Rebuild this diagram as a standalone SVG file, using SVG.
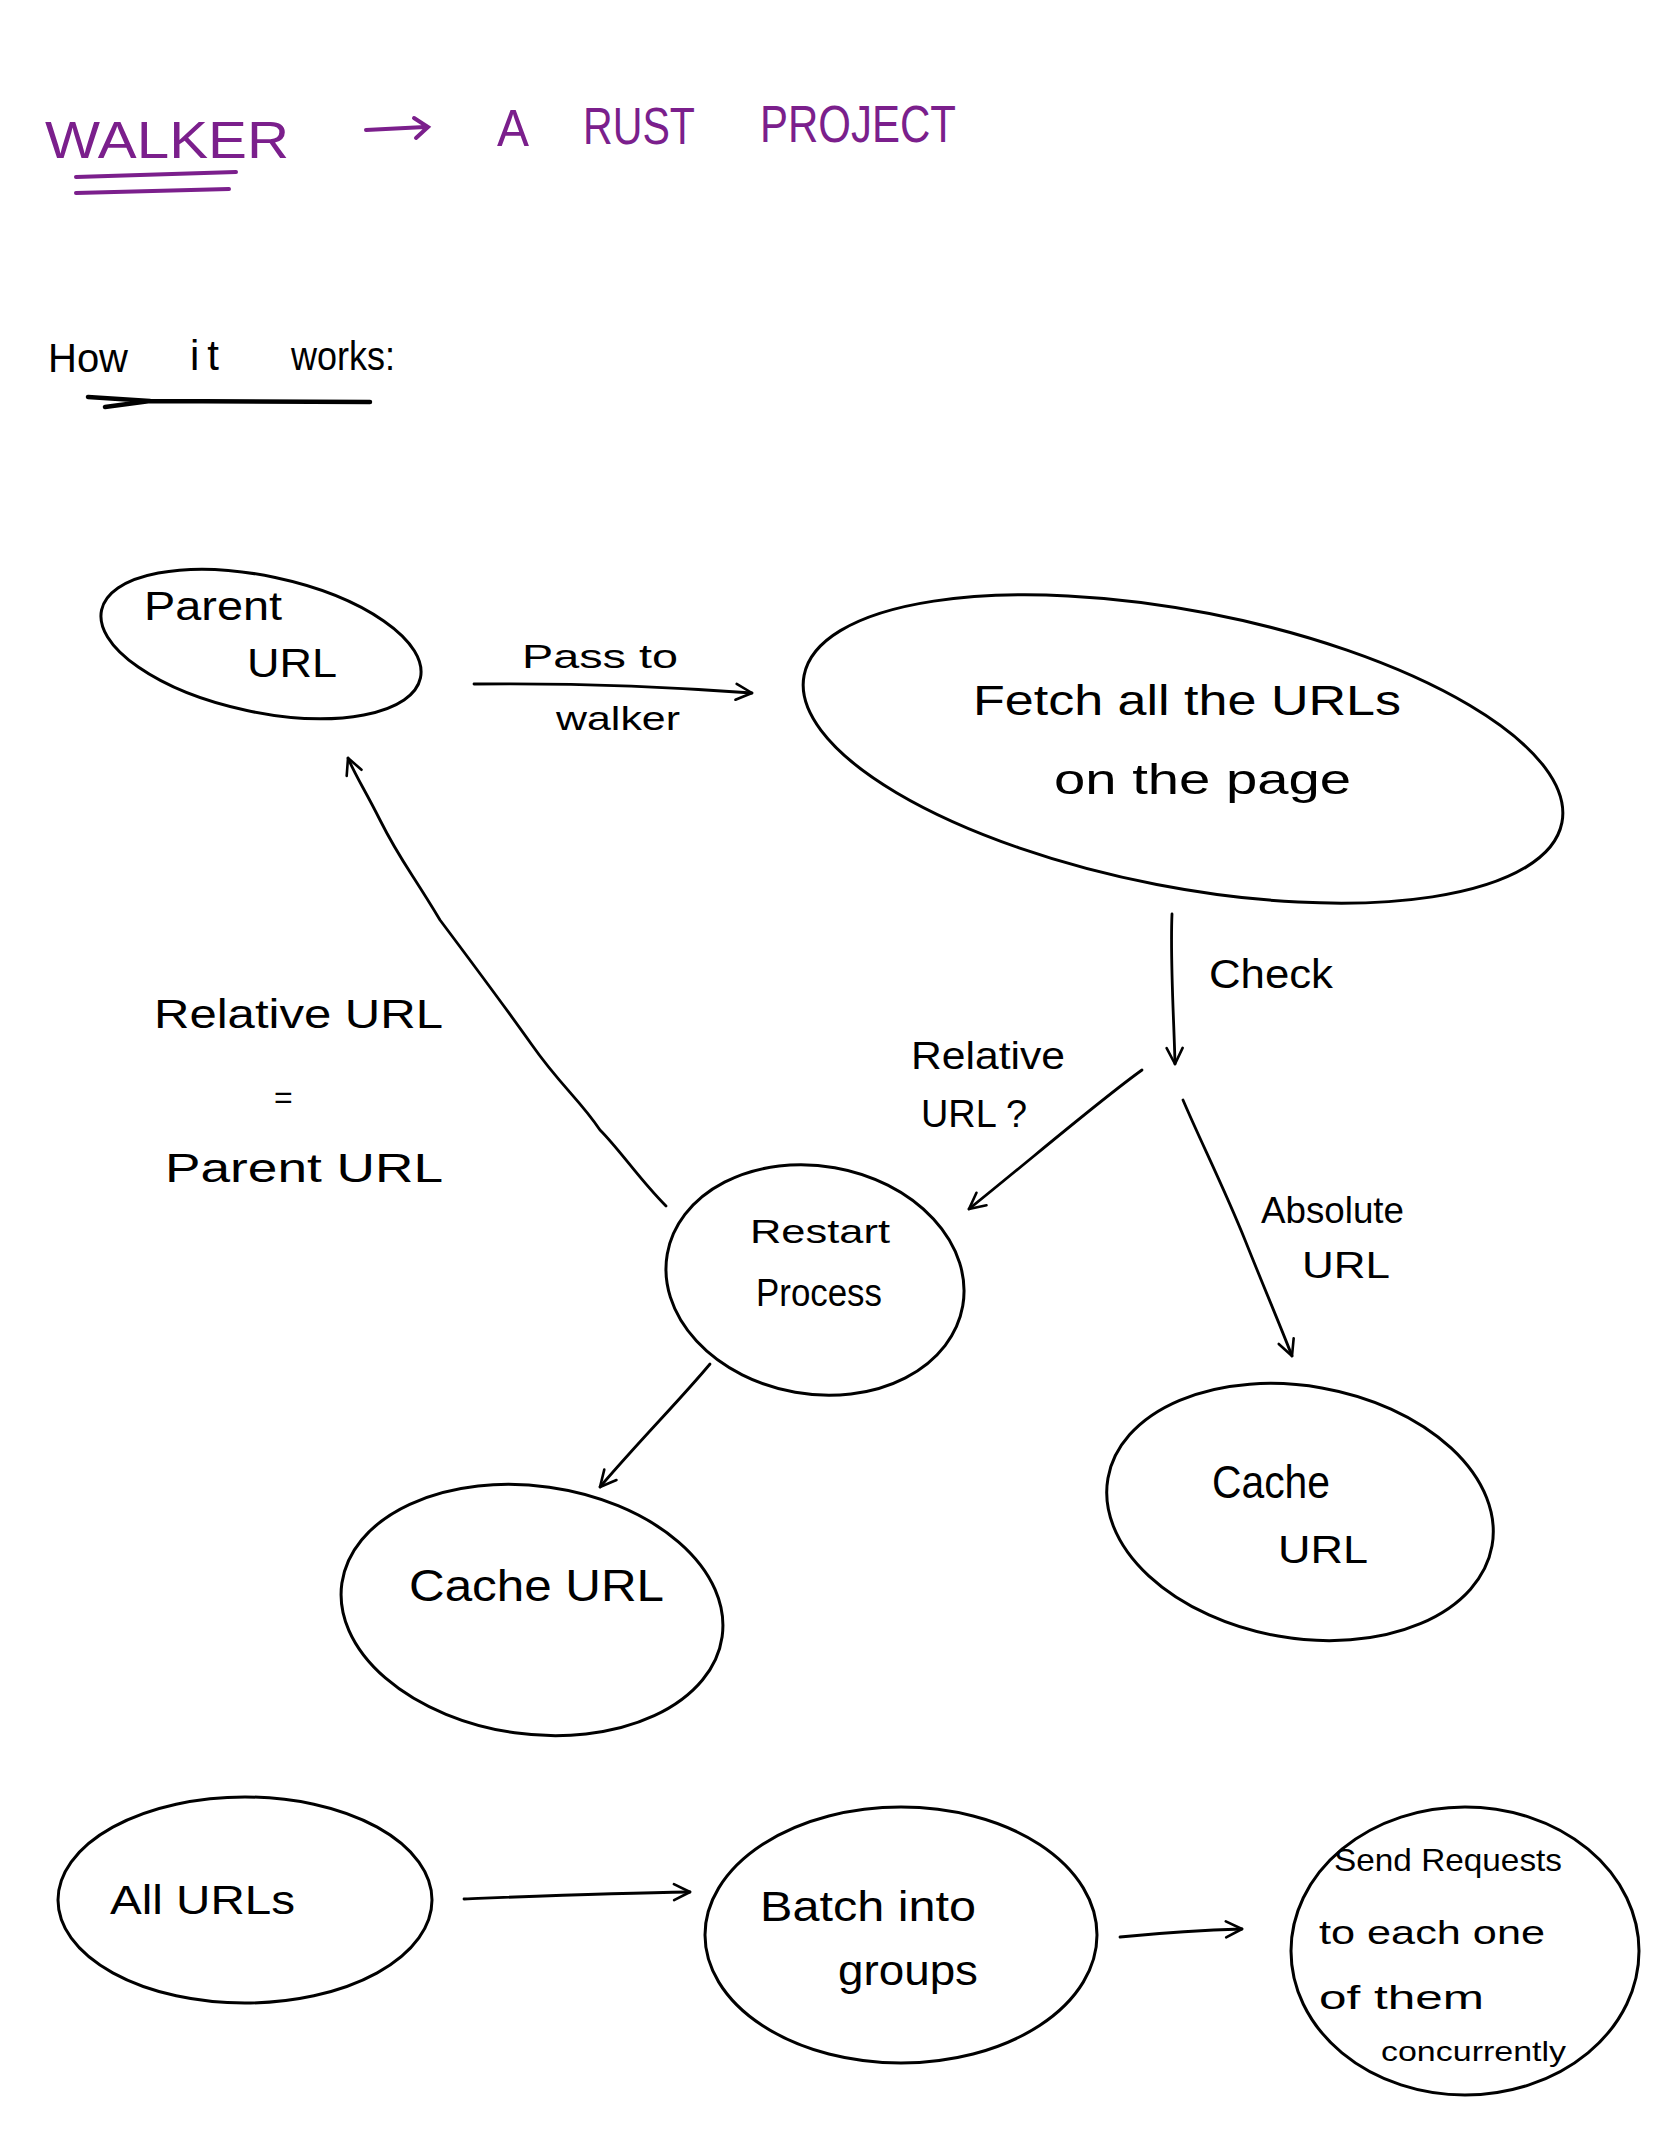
<svg xmlns="http://www.w3.org/2000/svg" width="1668" height="2154" viewBox="0 0 1668 2154">
<style>
.bg{fill:#ffffff}
.node{fill:none;stroke:#000;stroke-width:3}
.edge{fill:none;stroke:#000;stroke-width:2.8;stroke-linecap:round;stroke-linejoin:round}
.t{font-family:"Liberation Sans",Arial,sans-serif;fill:#000}
.title{font-family:"Liberation Sans",Arial,sans-serif;fill:#7b1f8c;font-size:52px}
.pl{fill:none;stroke:#7b1f8c;stroke-width:4;stroke-linecap:round}
</style>
<defs>
<marker id="chev" viewBox="0 0 20 20" refX="18" refY="10" markerWidth="20" markerHeight="20" markerUnits="userSpaceOnUse" orient="auto">
<path d="M2,2 L18,10 L2,18" fill="none" stroke="#000" stroke-width="2.6" stroke-linecap="round" stroke-linejoin="round"/>
</marker>
</defs>
<rect class="bg" x="0" y="0" width="1668" height="2154"/>

<g id="title">
<text class="title" x="45" y="158" textLength="244" lengthAdjust="spacingAndGlyphs">WALKER</text>
<path class="pl" d="M76,177 L236,172 M76,193 L229,189"/>
<path class="pl" d="M366,130 L425,127 M414,118 L428,127 L416,138"/>
<text class="title" x="497" y="146" textLength="32" lengthAdjust="spacingAndGlyphs">A</text>
<text class="title" x="583" y="144" textLength="112" lengthAdjust="spacingAndGlyphs">RUST</text>
<text class="title" x="760" y="142" textLength="196" lengthAdjust="spacingAndGlyphs">PROJECT</text>
</g>

<g id="subtitle">
<text class="t" x="48" y="372" font-size="40" textLength="80" lengthAdjust="spacingAndGlyphs">How</text>
<text class="t" x="190" y="370" font-size="42" letter-spacing="8">it</text>
<text class="t" x="291" y="370" font-size="40" textLength="104" lengthAdjust="spacingAndGlyphs">works:</text>
<path d="M88,397 L150,401 L370,402 M150,401 L105,407" fill="none" stroke="#000" stroke-width="4.5" stroke-linecap="round"/>
</g>

<g id="parent-url">
<ellipse class="node" cx="261" cy="644" rx="163" ry="68" transform="rotate(12 261 644)"/>
<text class="t" x="144" y="620" font-size="40" textLength="138" lengthAdjust="spacingAndGlyphs">Parent</text>
<text class="t" x="247" y="677" font-size="40" textLength="90" lengthAdjust="spacingAndGlyphs">URL</text>
</g>

<g id="fetch">
<ellipse class="node" cx="1183" cy="749" rx="386" ry="138" transform="rotate(11 1183 749)"/>
<text class="t" x="973" y="715" font-size="42" textLength="428" lengthAdjust="spacingAndGlyphs">Fetch all the URLs</text>
<text class="t" x="1054" y="794" font-size="42" textLength="297" lengthAdjust="spacingAndGlyphs">on the page</text>
</g>

<g id="restart">
<ellipse class="node" cx="815" cy="1280" rx="150" ry="114" transform="rotate(10 815 1280)"/>
<text class="t" x="750" y="1243" font-size="34" textLength="140" lengthAdjust="spacingAndGlyphs">Restart</text>
<text class="t" x="756" y="1306" font-size="38" textLength="126" lengthAdjust="spacingAndGlyphs">Process</text>
</g>

<g id="cache-left">
<ellipse class="node" cx="532" cy="1610" rx="192" ry="124" transform="rotate(8 532 1610)"/>
<text class="t" x="409" y="1601" font-size="44" textLength="255" lengthAdjust="spacingAndGlyphs">Cache URL</text>
</g>

<g id="cache-right">
<ellipse class="node" cx="1300" cy="1512" rx="195" ry="126" transform="rotate(10 1300 1512)"/>
<text class="t" x="1212" y="1498" font-size="46" textLength="118" lengthAdjust="spacingAndGlyphs">Cache</text>
<text class="t" x="1278" y="1563" font-size="38" textLength="90" lengthAdjust="spacingAndGlyphs">URL</text>
</g>

<g id="all-urls">
<ellipse class="node" cx="245" cy="1900" rx="187" ry="103"/>
<text class="t" x="110" y="1914" font-size="40" textLength="185" lengthAdjust="spacingAndGlyphs">All URLs</text>
</g>

<g id="batch">
<ellipse class="node" cx="901" cy="1935" rx="196" ry="128"/>
<text class="t" x="760" y="1921" font-size="42" textLength="216" lengthAdjust="spacingAndGlyphs">Batch into</text>
<text class="t" x="838" y="1985" font-size="42" textLength="140" lengthAdjust="spacingAndGlyphs">groups</text>
</g>

<g id="send">
<ellipse class="node" cx="1465" cy="1951" rx="174" ry="144"/>
<text class="t" x="1334" y="1871" font-size="32" textLength="228" lengthAdjust="spacingAndGlyphs">Send Requests</text>
<text class="t" x="1319" y="1944" font-size="34" textLength="226" lengthAdjust="spacingAndGlyphs">to each one</text>
<text class="t" x="1319" y="2009" font-size="34" textLength="165" lengthAdjust="spacingAndGlyphs">of them</text>
<text class="t" x="1381" y="2061" font-size="28" textLength="185" lengthAdjust="spacingAndGlyphs">concurrently</text>
</g>

<g id="labels">
<text class="t" x="522" y="668" font-size="34" textLength="156" lengthAdjust="spacingAndGlyphs">Pass to</text>
<text class="t" x="556" y="730" font-size="34" textLength="124" lengthAdjust="spacingAndGlyphs">walker</text>
<text class="t" x="1209" y="988" font-size="40" textLength="124" lengthAdjust="spacingAndGlyphs">Check</text>
<text class="t" x="911" y="1069" font-size="38" textLength="154" lengthAdjust="spacingAndGlyphs">Relative</text>
<text class="t" x="921" y="1127" font-size="38" textLength="106" lengthAdjust="spacingAndGlyphs">URL ?</text>
<text class="t" x="1261" y="1223" font-size="36" textLength="143" lengthAdjust="spacingAndGlyphs">Absolute</text>
<text class="t" x="1302" y="1278" font-size="36" textLength="88" lengthAdjust="spacingAndGlyphs">URL</text>
<text class="t" x="154" y="1028" font-size="40" textLength="289" lengthAdjust="spacingAndGlyphs">Relative URL</text>
<text class="t" x="274" y="1108" font-size="32">=</text>
<text class="t" x="165" y="1182" font-size="40" textLength="278" lengthAdjust="spacingAndGlyphs">Parent URL</text>
</g>

<g id="connectors">
<path class="edge" d="M474,684 C560,683 660,686 752,693" marker-end="url(#chev)"/>
<path class="edge" d="M1172,914 C1170,960 1174,1020 1175,1064" marker-end="url(#chev)"/>
<path class="edge" d="M1142,1070 C1100,1100 1030,1160 969,1209" marker-end="url(#chev)"/>
<path class="edge" d="M1183,1100 C1200,1140 1225,1190 1245,1240 C1265,1290 1280,1325 1292,1356" marker-end="url(#chev)"/>
<path class="edge" d="M666,1206 C640,1180 620,1150 600,1130 C580,1100 560,1085 532,1045 C500,1000 470,960 440,920 C410,870 400,860 380,820 C365,790 355,775 348,758" marker-end="url(#chev)"/>
<path class="edge" d="M710,1364 C680,1400 640,1440 600,1487" marker-end="url(#chev)"/>
<path class="edge" d="M464,1899 C540,1896 610,1893 690,1892" marker-end="url(#chev)"/>
<path class="edge" d="M1120,1937 C1160,1933 1200,1930 1242,1929" marker-end="url(#chev)"/>
</g>
</svg>
